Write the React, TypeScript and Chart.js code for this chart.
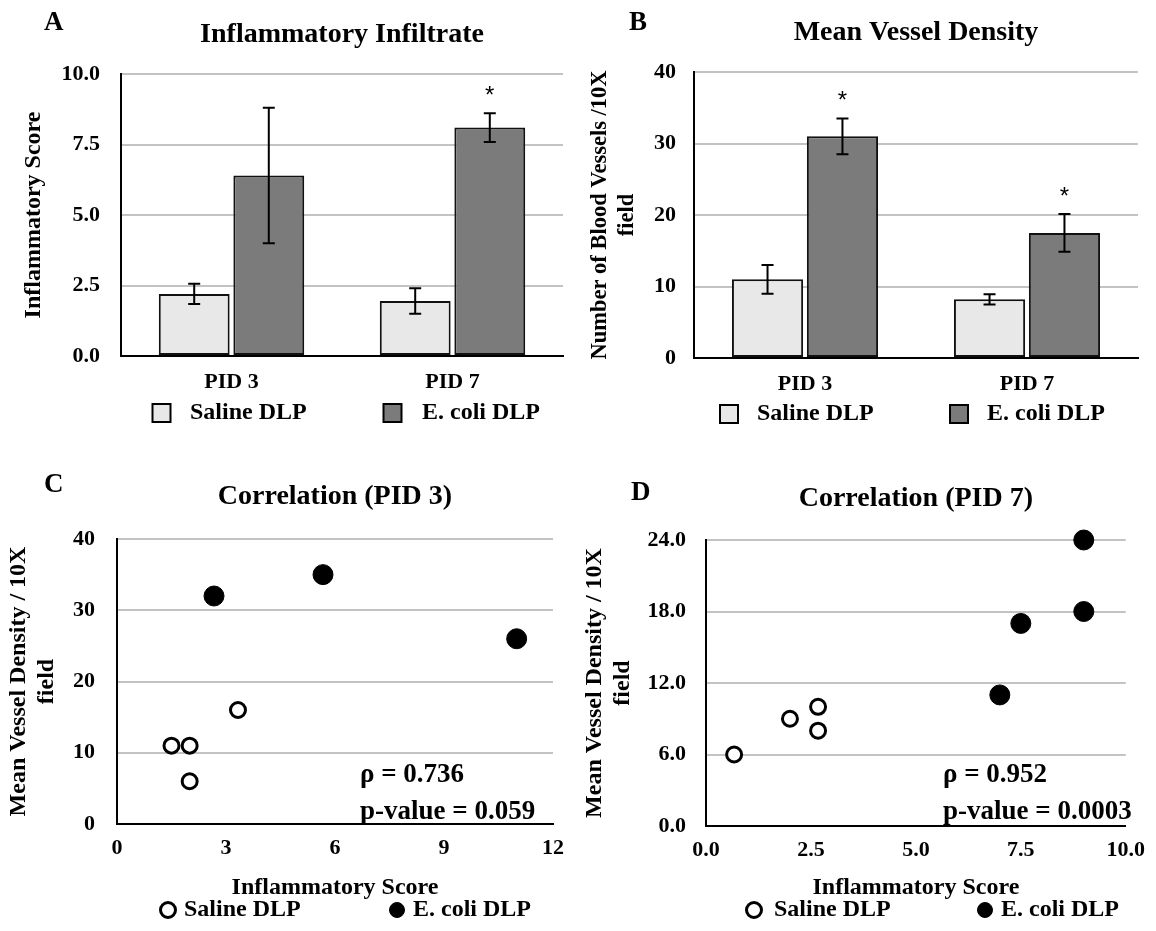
import React, { useEffect, useRef } from "react";
import { Chart, registerables } from "chart.js";

Chart.register(...registerables);

const SERIF = "'Liberation Serif', 'Times New Roman', Times, serif";

// ---------- Data ----------
const barCategories = ["PID 3", "PID 7"];
const seriesNames = ["Saline DLP", "E. coli DLP"];

// Panel A: Inflammatory Infiltrate
const inflSaline = [2.2, 1.95];
const inflSalineErr = [0.36, 0.45];
const inflSalineSig = [false, false];
const inflEcoli = [6.4, 8.1];
const inflEcoliErr = [2.4, 0.51];
const inflEcoliSig = [false, true];
const inflTicks = [0, 2.5, 5, 7.5, 10];

// Panel B: Mean Vessel Density
const mvdSaline = [11, 8.2];
const mvdSalineErr = [2.0, 0.7];
const mvdSalineSig = [false, false];
const mvdEcoli = [31, 17.5];
const mvdEcoliErr = [2.5, 2.65];
const mvdEcoliSig = [true, true];
const mvdTicks = [0, 10, 20, 30, 40];

// Panel C: Correlation (PID 3)
const pid3SalineX = [1.5, 2, 2, 3.33];
const pid3SalineY = [11, 11, 6, 16];
const pid3EcoliX = [2.67, 5.67, 11];
const pid3EcoliY = [32, 35, 26];
const pid3XTicks = [0, 3, 6, 9, 12];
const pid3YTicks = [0, 10, 20, 30, 40];
const pid3Stats = ["ρ = 0.736", "p-value = 0.059"];

// Panel D: Correlation (PID 7)
const pid7SalineX = [0.67, 2, 2.67, 2.67];
const pid7SalineY = [6, 9, 10, 8];
const pid7EcoliX = [7, 7.5, 9, 9];
const pid7EcoliY = [11, 17, 18, 24];
const pid7XTicks = [0, 2.5, 5, 7.5, 10];
const pid7YTicks = [0, 6, 12, 18, 24];
const pid7Stats = ["ρ = 0.952", "p-value = 0.0003"];

// ---------- Styles ----------
const SALINE_FILL = "#e8e8e8";
const ECOLI_FILL = "#7b7b7b";
const GRID = "#c3c3c3";
const TICK_FONT = { family: SERIF, size: 22, weight: "bold" as const, lineHeight: 1.2 };
const axisTitleFont = (size: number) => ({ family: SERIF, size, weight: "bold" as const, lineHeight: 1.2 });

function drawText(
  ctx: CanvasRenderingContext2D,
  s: string,
  x: number,
  y: number,
  font: string,
  align: CanvasTextAlign = "left"
) {
  ctx.font = font;
  ctx.textAlign = align;
  ctx.textBaseline = "middle";
  ctx.fillStyle = "#000";
  ctx.fillText(s, x, y);
}

type DecorCfg = {
  letter: string;
  letterX: number;
  letterY: number;
  title: string;
  titleY: number;
  legendY: number;
  legendMarkX: number[];
  legendTextX: number[];
  legendKind: "box" | "circle";
  stats?: string[];
  statsX?: number;
  statsY?: number[];
  errors?: number[][];
  sig?: boolean[][];
};

function makeDecor(d: DecorCfg) {
  return {
    id: "decor",
    afterDatasetsDraw(chart: any) {
      if (!d.errors) return;
      const ctx = chart.ctx as CanvasRenderingContext2D;
      const y = chart.scales.y;
      ctx.save();
      chart.data.datasets.forEach((ds: any, i: number) => {
        const meta = chart.getDatasetMeta(i);
        meta.data.forEach((el: any, j: number) => {
          const v = ds.data[j] as number;
          const e = d.errors![i][j];
          const yt = y.getPixelForValue(v + e);
          const yb = y.getPixelForValue(v - e);
          ctx.strokeStyle = "#000";
          ctx.lineWidth = 2;
          ctx.beginPath();
          ctx.moveTo(el.x, yt);
          ctx.lineTo(el.x, yb);
          ctx.moveTo(el.x - 6, yt);
          ctx.lineTo(el.x + 6, yt);
          ctx.moveTo(el.x - 6, yb);
          ctx.lineTo(el.x + 6, yb);
          ctx.stroke();
          if (d.sig && d.sig[i][j]) {
            drawText(ctx, "*", el.x, yt - 17, `24px 'Liberation Sans', Arial, sans-serif`, "center");
          }
        });
      });
      ctx.restore();
    },
    afterDraw(chart: any) {
      const ctx = chart.ctx as CanvasRenderingContext2D;
      const ca = chart.chartArea;
      ctx.save();
      drawText(ctx, d.letter, d.letterX, d.letterY, `bold 27px ${SERIF}`, "left");
      drawText(ctx, d.title, (ca.left + ca.right) / 2, d.titleY, `bold 28px ${SERIF}`, "center");
      chart.data.datasets.forEach((ds: any, i: number) => {
        const mx = d.legendMarkX[i];
        const my = d.legendY;
        ctx.lineWidth = 2;
        ctx.strokeStyle = "#000";
        if (d.legendKind === "box") {
          ctx.fillStyle = ds.backgroundColor;
          ctx.fillRect(mx - 9, my - 9, 18, 18);
          ctx.strokeRect(mx - 9, my - 9, 18, 18);
        } else {
          ctx.beginPath();
          ctx.arc(mx, my, 7.5, 0, Math.PI * 2);
          ctx.fillStyle = ds.backgroundColor;
          ctx.fill();
          ctx.lineWidth = ds.borderWidth;
          ctx.stroke();
        }
        drawText(ctx, ds.label, d.legendTextX[i], my, `bold 24px ${SERIF}`, "left");
      });
      if (d.stats && d.statsY) {
        d.stats.forEach((s, k) => {
          drawText(ctx, s, d.statsX!, d.statsY![k], `bold 27px ${SERIF}`, "left");
        });
      }
      ctx.restore();
    },
  };
}

const gridColor = (c: any) => (c.tick && c.tick.value === 0 ? "rgba(0,0,0,0)" : GRID);

type AxisLayout = {
  yWidth: number;
  xHeight: number;
  yTickPad: number;
  xTickPad: number;
  yTitle: string | string[];
  yTitlePad: number;
  yTitleSize: number;
  xTitle?: string;
  xTitlePad?: number;
};

function yScale(ticks: number[], fmt: (v: number) => string, L: AxisLayout) {
  return {
    type: "linear",
    min: ticks[0],
    max: ticks[ticks.length - 1],
    afterBuildTicks: (s: any) => {
      s.ticks = ticks.map((value) => ({ value }));
    },
    afterFit: (s: any) => {
      s.width = L.yWidth;
    },
    grid: { color: gridColor, lineWidth: 2, drawTicks: false },
    border: { display: true, color: "#000", width: 2 },
    ticks: {
      font: TICK_FONT,
      color: "#000",
      padding: L.yTickPad,
      callback: (v: any) => fmt(Number(v)),
    },
    title: {
      display: true,
      text: L.yTitle,
      font: axisTitleFont(L.yTitleSize),
      color: "#000",
      padding: { top: L.yTitlePad, bottom: 0 },
    },
  };
}

function barConfig(
  sal: number[],
  eco: number[],
  ticks: number[],
  fmt: (v: number) => string,
  L: AxisLayout,
  pad: any,
  decor: DecorCfg
) {
  const common = {
    borderColor: "#111",
    borderWidth: 2,
    borderSkipped: false,
    categoryPercentage: 0.675,
    barPercentage: 0.95,
  };
  return {
    type: "bar",
    data: {
      labels: barCategories,
      datasets: [
        { label: seriesNames[0], data: sal, backgroundColor: SALINE_FILL, ...common },
        { label: seriesNames[1], data: eco, backgroundColor: ECOLI_FILL, ...common },
      ],
    },
    options: {
      responsive: false,
      animation: false,
      layout: { padding: pad },
      plugins: { legend: { display: false }, title: { display: false }, tooltip: { enabled: false } },
      scales: {
        x: {
          type: "category",
          afterFit: (s: any) => {
            s.height = L.xHeight;
          },
          grid: { display: false, drawTicks: false },
          border: { display: true, color: "#000", width: 2 },
          ticks: { font: TICK_FONT, color: "#000", padding: L.xTickPad },
        },
        y: yScale(ticks, fmt, L),
      },
    },
    plugins: [makeDecor(decor)],
  };
}

function scatterConfig(
  sx: number[],
  sy: number[],
  ex: number[],
  ey: number[],
  xt: number[],
  yt: number[],
  fmt: (v: number) => string,
  L: AxisLayout,
  pad: any,
  decor: DecorCfg
) {
  return {
    type: "scatter",
    data: {
      datasets: [
        {
          label: seriesNames[0],
          data: sx.map((x, i) => ({ x, y: sy[i] })),
          backgroundColor: "#fff",
          borderColor: "#000",
          borderWidth: 3,
          pointRadius: 7.5,
          clip: false,
        },
        {
          label: seriesNames[1],
          data: ex.map((x, i) => ({ x, y: ey[i] })),
          backgroundColor: "#000",
          borderColor: "#000",
          borderWidth: 1,
          pointRadius: 10,
          clip: false,
        },
      ],
    },
    options: {
      responsive: false,
      animation: false,
      layout: { padding: pad },
      plugins: { legend: { display: false }, title: { display: false }, tooltip: { enabled: false } },
      scales: {
        x: {
          type: "linear",
          min: xt[0],
          max: xt[xt.length - 1],
          afterBuildTicks: (s: any) => {
            s.ticks = xt.map((value) => ({ value }));
          },
          afterFit: (s: any) => {
            s.height = L.xHeight;
          },
          grid: { display: false, drawTicks: false },
          border: { display: true, color: "#000", width: 2 },
          ticks: { font: TICK_FONT, color: "#000", padding: L.xTickPad, callback: (v: any) => fmt(Number(v)) },
          title: {
            display: true,
            text: L.xTitle,
            font: axisTitleFont(24),
            color: "#000",
            padding: { top: 0, bottom: L.xTitlePad },
          },
        },
        y: yScale(yt, fmt, L),
      },
    },
    plugins: [makeDecor(decor)],
  };
}

function ChartCanvas(props: { left: number; top: number; width: number; height: number; make: () => any }) {
  const ref = useRef<HTMLCanvasElement>(null);
  useEffect(() => {
    const chart = new Chart(ref.current as HTMLCanvasElement, props.make());
    return () => chart.destroy();
  }, []);
  return (
    <canvas
      ref={ref}
      width={props.width}
      height={props.height}
      style={{ position: "absolute", left: props.left, top: props.top, width: props.width, height: props.height, display: "block" }}
    />
  );
}

const fmt1 = (v: number) => v.toFixed(1);
const fmt0 = (v: number) => String(Math.round(v));

export default function App() {
  return (
    <div style={{ position: "absolute", left: 0, top: 0, width: 1156, height: 931, background: "#fff", overflow: "hidden" }}>
      <ChartCanvas
        left={0}
        top={0}
        width={580}
        height={460}
        make={() =>
          barConfig(
            inflSaline,
            inflEcoli,
            inflTicks,
            fmt1,
            {
              yWidth: 121,
              xHeight: 40,
              yTickPad: 21,
              xTickPad: 13,
              yTitle: "Inflammatory Score",
              yTitlePad: 19,
              yTitleSize: 24,
            },
            { left: 0, top: 74, right: 17, bottom: 64 },
            {
              letter: "A",
              letterX: 44,
              letterY: 23,
              title: "Inflammatory Infiltrate",
              titleY: 35,
              legendY: 413,
              legendMarkX: [161.5, 392.5],
              legendTextX: [190, 422],
              legendKind: "box",
              errors: [inflSalineErr, inflEcoliErr],
              sig: [inflSalineSig, inflEcoliSig],
            }
          )
        }
      />
      <ChartCanvas
        left={580}
        top={0}
        width={576}
        height={460}
        make={() =>
          barConfig(
            mvdSaline,
            mvdEcoli,
            mvdTicks,
            fmt0,
            {
              yWidth: 114,
              xHeight: 40,
              yTickPad: 18,
              xTickPad: 13,
              yTitle: ["Number of Blood Vessels /10X", "field"],
              yTitlePad: 7,
              yTitleSize: 22.5,
            },
            { left: 0, top: 72, right: 18, bottom: 62 },
            {
              letter: "B",
              letterX: 49,
              letterY: 23,
              title: "Mean Vessel Density",
              titleY: 33,
              legendY: 414,
              legendMarkX: [149, 379],
              legendTextX: [177, 407],
              legendKind: "box",
              errors: [mvdSalineErr, mvdEcoliErr],
              sig: [mvdSalineSig, mvdEcoliSig],
            }
          )
        }
      />
      <ChartCanvas
        left={0}
        top={460}
        width={580}
        height={471}
        make={() =>
          scatterConfig(
            pid3SalineX,
            pid3SalineY,
            pid3EcoliX,
            pid3EcoliY,
            pid3XTicks,
            pid3YTicks,
            fmt0,
            {
              yWidth: 117,
              xHeight: 80,
              yTickPad: 22,
              xTickPad: 11,
              yTitle: ["Mean Vessel Density / 10X", "field"],
              yTitlePad: 4,
              yTitleSize: 24,
              xTitle: "Inflammatory Score",
              xTitlePad: 2,
            },
            { left: 0, top: 79, right: 27, bottom: 27 },
            {
              letter: "C",
              letterX: 44,
              letterY: 25,
              title: "Correlation (PID 3)",
              titleY: 37,
              legendY: 450,
              legendMarkX: [168, 397],
              legendTextX: [184, 413],
              legendKind: "circle",
              stats: pid3Stats,
              statsX: 360,
              statsY: [315, 352],
            }
          )
        }
      />
      <ChartCanvas
        left={580}
        top={460}
        width={576}
        height={471}
        make={() =>
          scatterConfig(
            pid7SalineX,
            pid7SalineY,
            pid7EcoliX,
            pid7EcoliY,
            pid7XTicks,
            pid7YTicks,
            fmt1,
            {
              yWidth: 126,
              xHeight: 80,
              yTickPad: 20,
              xTickPad: 11,
              yTitle: ["Mean Vessel Density / 10X", "field"],
              yTitlePad: 0,
              yTitleSize: 24,
              xTitle: "Inflammatory Score",
              xTitlePad: 4,
            },
            { left: 0, top: 80, right: 26, bottom: 25 },
            {
              letter: "D",
              letterX: 51,
              letterY: 33,
              title: "Correlation (PID 7)",
              titleY: 39,
              legendY: 450,
              legendMarkX: [174, 405],
              legendTextX: [194, 421],
              legendKind: "circle",
              stats: pid7Stats,
              statsX: 363,
              statsY: [315, 352],
            }
          )
        }
      />
    </div>
  );
}
